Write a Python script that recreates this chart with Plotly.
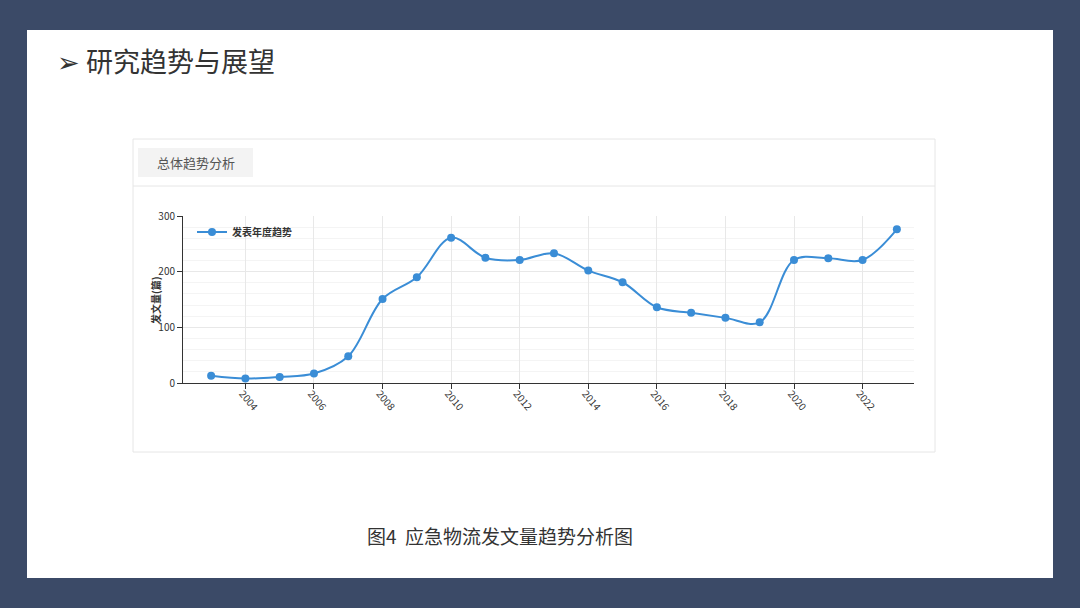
import plotly.graph_objects as go

years = list(range(2003, 2024))
counts = [13, 8, 11, 17, 48, 151, 190, 261, 225, 221, 233, 202, 181, 136, 126, 117, 109, 221, 224, 221, 276]
series_name = "发表年度趋势"
y_title = "发文量(篇)"
x_ticks = list(range(2004, 2023, 2))
y_ticks = [0, 100, 200, 300]

W, H = 1080, 608
FONT = "Noto Sans CJK SC"

def px(x):
    return x / W

def py(y):
    return 1 - y / H

fig = go.Figure()
fig.add_trace(go.Scatter(
    x=years, y=counts, mode="lines+markers", name="<b>" + series_name + "</b>",
    line=dict(color="#3a8dd6", width=2, shape="spline", smoothing=1.0),
    marker=dict(color="#3a8dd6", size=8),
))

shapes = [
    dict(type="rect", xref="paper", yref="paper", x0=px(27), x1=px(1053), y0=py(578), y1=py(30),
         fillcolor="white", line=dict(width=0), layer="below"),
    dict(type="rect", xref="paper", yref="paper", x0=px(133), x1=px(935), y0=py(452), y1=py(139),
         fillcolor="white", line=dict(color="#e6e6e6", width=1), layer="below"),
    dict(type="line", xref="paper", yref="paper", x0=px(133), x1=px(935), y0=py(186), y1=py(186),
         line=dict(color="#e6e6e6", width=1), layer="below"),
    dict(type="rect", xref="paper", yref="paper", x0=px(138), x1=px(253), y0=py(177), y1=py(148),
         fillcolor="#f3f3f3", line=dict(width=0), layer="below"),
]

annotations = [
    dict(text="➢ 研究趋势与展望", xref="paper", yref="paper", x=px(55), y=py(60),
         xanchor="left", yanchor="middle", showarrow=False,
         font=dict(family=FONT, size=27, color="#333333")),
    dict(text="总体趋势分析", xref="paper", yref="paper", x=px(196), y=py(162),
         xanchor="center", yanchor="middle", showarrow=False,
         font=dict(family=FONT, size=13, color="#555555")),
    dict(text="图4  应急物流发文量趋势分析图", xref="paper", yref="paper", x=px(500), y=py(535),
         xanchor="center", yanchor="middle", showarrow=False,
         font=dict(family=FONT, size=19, color="#333333")),
    dict(text="<b>" + y_title + "</b>", xref="paper", yref="paper", x=px(155), y=py(300),
         xanchor="center", yanchor="middle", showarrow=False, textangle=-90,
         font=dict(family=FONT, size=10, color="#333333")),
]

fig.update_layout(
    width=W, height=H, autosize=False,
    margin=dict(l=0, r=0, t=0, b=0, pad=0, autoexpand=False),
    paper_bgcolor="#3b4a67", plot_bgcolor="white",
    font=dict(family=FONT, size=10, color="#333333"),
    shapes=shapes, annotations=annotations,
    showlegend=True,
    legend=dict(x=px(192), y=py(232), xanchor="left", yanchor="middle",
                bgcolor="rgba(0,0,0,0)", font=dict(family=FONT, size=10, color="#333333"),
                itemwidth=30),
    xaxis=dict(domain=[px(183), px(914)], range=[2002.18, 2023.5], automargin=False,
               tickmode="array", tickvals=x_ticks, ticktext=[str(t) for t in x_ticks],
               tickangle=50, ticks="outside", ticklen=5, tickcolor="#333333",
               ticklabelstandoff=-5, ticklabelshift=-3,
               showline=True, linecolor="#333333", linewidth=1,
               showgrid=True, gridcolor="#e8e8e8", zeroline=False,
               tickfont=dict(size=10, color="#333333")),
    yaxis=dict(domain=[py(383), py(216)], range=[0, 300], automargin=False,
               tickmode="array", tickvals=y_ticks,
               ticks="outside", ticklen=5, tickcolor="#333333",
               showline=True, linecolor="#333333", linewidth=1,
               showgrid=True, gridcolor="#e8e8e8", zeroline=False,
               minor=dict(dtick=20, showgrid=True, gridcolor="#f4f4f4"),
               tickfont=dict(size=10, color="#333333")),
)

post = (
    "document.documentElement.style.margin='0';"
    "document.documentElement.style.overflow='hidden';"
    "document.body.style.margin='0';document.body.style.padding='0';"
    "document.body.style.overflow='hidden';"
    "var gd=document.getElementById('{plot_id}');"
    "gd.style.position='fixed';gd.style.left='0px';gd.style.top='0px';"
)

fig.write_html("out.html", config={"displayModeBar": False}, post_script=post)
